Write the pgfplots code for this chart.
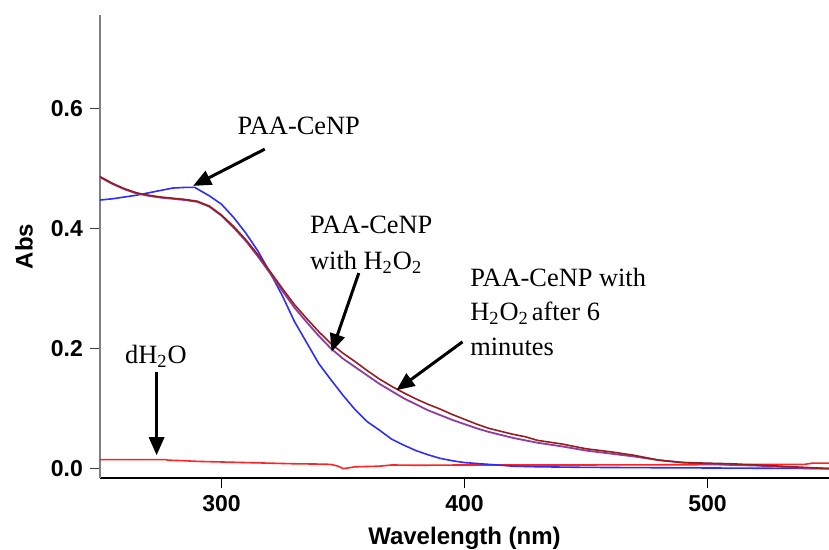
\documentclass[border=0pt]{standalone}
\usepackage{fontspec}
\setmainfont{Liberation Serif}
\newfontfamily\arialb{Liberation Sans}
\usepackage{pgfplots}
\pgfplotsset{compat=1.18}
\usetikzlibrary{arrows.meta}
\definecolor{cBlue}{RGB}{45,45,255}
\definecolor{cRed}{RGB}{255,35,35}
\definecolor{cH2O2}{RGB}{150,30,30}
\definecolor{cSix}{RGB}{145,60,160}

\begin{document}
\begin{tikzpicture}[
    ann/.style={-{Triangle[length=9pt,width=7.5pt]}, line width=1.5pt, black},
    lab/.style={anchor=base west, inner sep=0pt, font=\fontsize{13.2}{15}\selectfont},
]
\begin{axis}[
    scale only axis,
    width=364.5pt, height=231.5pt,
    xmin=250, xmax=550, ymin=-0.0157, ymax=0.755,
    axis x line=bottom, axis y line=left,
    axis line style={-},
    x axis line style={black, line width=0.6pt},
    y axis line style={gray, line width=0.6pt},
    xtick={300,400,500}, ytick={0,0.2,0.4,0.6},
    minor tick num=0,
    tick align=outside, major tick length=5pt,
    xtick style={black, line width=0.6pt},
    ytick style={black!75, line width=0.6pt},
    /pgf/number format/assume math mode=true,
    ticklabel style={font=\arialb\bfseries\fontsize{11.5}{13}\selectfont},
    yticklabel style={/pgf/number format/.cd, fixed, fixed zerofill, precision=1},
    xlabel={Wavelength (nm)}, ylabel={Abs},
    label style={font=\arialb\bfseries\fontsize{12}{14}\selectfont},
    xlabel style={at={(axis description cs:0.5,0)}, anchor=north, yshift=-21pt},
    ylabel style={at={(axis description cs:0,0.5)}, anchor=south, yshift=30pt},
]
% dH2O
\addplot[cRed, line width=0.8pt] coordinates {
(250,0.015) (260,0.015) (270,0.015) (277,0.015) (278,0.014) (285,0.013)
(290,0.012) (300,0.011) (310,0.010) (320,0.009) (330,0.008) (340,0.0075)
(345,0.007) (348,0.004) (350,0.000) (352,0.001) (355,0.003) (365,0.004)
(370,0.006) (380,0.0055) (400,0.006) (450,0.006) (500,0.0065) (540,0.007)
(543,0.009) (550,0.009)};
% PAA-CeNP
\addplot[cBlue, line width=0.8pt] coordinates {
(250,0.447) (255,0.449) (260,0.452) (265,0.455) (270,0.459) (275,0.463)
(280,0.467) (285,0.468) (289,0.468) (295,0.454) (300,0.440) (305,0.418)
(310,0.392) (315,0.362) (320,0.326) (325,0.288) (330,0.245) (335,0.210)
(340,0.175) (345,0.148) (350,0.122) (355,0.098) (360,0.078) (365,0.064)
(370,0.049) (375,0.039) (380,0.030) (385,0.023) (390,0.017) (395,0.013)
(400,0.010) (410,0.007) (420,0.004) (430,0.003) (450,0.002) (500,0.001)
(550,0.000)};
% PAA-CeNP with H2O2 after 6 minutes
\addplot[cSix, line width=0.9pt] coordinates {
(250,0.485) (255,0.474) (260,0.465) (265,0.458) (270,0.454) (275,0.451)
(280,0.449) (285,0.447) (290,0.444) (295,0.436) (300,0.421) (305,0.401)
(310,0.379) (315,0.353) (320,0.325) (325,0.296) (330,0.268) (335,0.244)
(340,0.221) (345,0.200) (350,0.183) (355,0.169) (360,0.155) (365,0.141)
(370,0.129) (375,0.117) (380,0.107) (385,0.097) (390,0.089) (395,0.081)
(400,0.074) (405,0.067) (410,0.061) (415,0.056) (420,0.051) (425,0.047)
(430,0.043) (440,0.037) (450,0.030) (460,0.025) (470,0.020) (480,0.014)
(490,0.010) (500,0.008) (510,0.006) (520,0.005) (530,0.003) (540,0.001)
(550,0.000)};
% PAA-CeNP with H2O2
\addplot[cH2O2, line width=0.8pt] coordinates {
(250,0.486) (255,0.475) (260,0.466) (265,0.459) (270,0.455) (275,0.452)
(280,0.450) (285,0.448) (290,0.445) (295,0.437) (300,0.422) (305,0.403)
(310,0.381) (315,0.356) (320,0.328) (325,0.300) (330,0.273) (335,0.250)
(340,0.228) (345,0.208) (350,0.192) (355,0.178) (360,0.163) (365,0.149)
(370,0.137) (375,0.126) (380,0.116) (385,0.107) (390,0.099) (395,0.090)
(400,0.082) (405,0.074) (410,0.067) (415,0.062) (420,0.057) (425,0.053)
(430,0.047) (440,0.041) (450,0.033) (460,0.028) (470,0.022) (480,0.014)
(490,0.010) (500,0.009) (510,0.008) (520,0.006) (530,0.004) (540,0.002)
(550,0.000)};

% annotations
\node[lab, anchor=base] at (axis cs:331.8,0.5568) {PAA-CeNP};
\draw[ann] (axis cs:317.8,0.5317) -- (axis cs:288.3,0.4705);

\node[lab] at (axis cs:336.3,0.3905) {PAA-CeNP};
\node[lab] at (axis cs:336.3,0.332) {with H\textsubscript{2}O\textsubscript{2}};
\draw[ann] (axis cs:356.5,0.3255) -- (axis cs:345.3,0.1943);

\node[lab] at (axis cs:402.2,0.3038) {PAA-CeNP with};
\node[lab] at (axis cs:402.2,0.246) {H\textsubscript{2}O\textsubscript{2}\kern1.5pt after 6};
\node[lab] at (axis cs:402.2,0.1888) {minutes};
\draw[ann] (axis cs:399.2,0.211) -- (axis cs:372,0.1305);

\node[lab] at (axis cs:260.2,0.175) {dH\textsubscript{2}O};
\draw[ann] (axis cs:273.3,0.161) -- (axis cs:273.3,0.0222);
\end{axis}
\pgfresetboundingbox
\path[use as bounding box] ([xshift=-50pt,yshift=-35.5pt]current axis.south west) rectangle ([yshift=7.5pt]current axis.north east);
\end{tikzpicture}
\end{document}
